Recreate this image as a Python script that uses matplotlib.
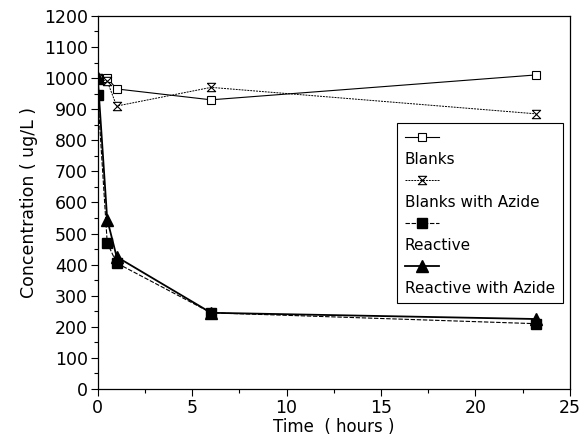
import numpy as np
import matplotlib
matplotlib.use('Agg')
import matplotlib.pyplot as plt
from matplotlib.lines import Line2D

# hours
t = [0, 0.5, 1, 6, 23.2]

blanks = [1000, 1000, 965, 930, 1010]
blanks_azide = [1000, 990, 910, 970, 885]
reactive = [945, 470, 405, 245, 210]
reactive_azide = [1000, 545, 425, 245, 225]

names = ['Blanks', 'Blanks with Azide', 'Reactive', 'Reactive with Azide']

hourglass = [(-1, 1), (1, 1), (-1, -1), (1, -1), (-1, 1)]

plt.rcParams['font.family'] = ['DejaVu Sans']

fig = plt.figure(figsize=(5.82, 4.41), dpi=100)
ax = fig.add_axes([0.168, 0.118, 0.811, 0.846])

l1, = ax.plot(t, blanks, color='black', lw=0.8, marker='s', ms=6,
              mfc='white', mec='black', mew=0.8)
l2, = ax.plot(t, blanks_azide, color='black', lw=0.7, ls=(0, (2, 1)),
              marker=hourglass, ms=6, mfc='white', mec='black', mew=0.8)
l3, = ax.plot(t, reactive, color='black', lw=0.8, ls=(0, (4, 1.5)),
              marker='s', ms=7, mfc='black', mec='black')
l4, = ax.plot(t, reactive_azide, color='black', lw=1.3,
              marker='^', ms=8, mfc='black', mec='black')

ax.set_xlim(0, 25)
ax.set_ylim(0, 1200)
ax.set_xticks(np.arange(0, 26, 5))
ax.set_xticks(np.arange(0, 26, 2.5), minor=True)
ax.set_yticks(np.arange(0, 1201, 100))
ax.set_yticks(np.arange(0, 1201, 50), minor=True)
ax.tick_params(which='both', direction='out', labelsize=12.5, width=0.8)
ax.tick_params(which='major', length=5, pad=2)
ax.tick_params(which='minor', length=3)
for s in ax.spines.values():
    s.set_linewidth(0.9)

ax.set_xlabel('Time  ( hours )', fontsize=12, labelpad=1)
ax.set_ylabel('Concentration ( ug/L )', fontsize=12.5, labelpad=4)

# legend: marker row, then name row below it
blank = Line2D([], [], linestyle='none', marker=None)
handles, labels = [], []
for ln, nm in zip([l1, l2, l3, l4], names):
    handles += [ln, blank]
    labels += ['', nm]
leg = ax.legend(handles, labels, loc='upper right',
                bbox_to_anchor=(0.985, 0.713), fontsize=11,
                handlelength=2.2, handletextpad=-2.2, labelspacing=0.42,
                fancybox=False, edgecolor='black', framealpha=1,
                borderpad=0.5, borderaxespad=0)
leg.get_frame().set_linewidth(0.8)

fig.savefig('out.png', dpi=100)
